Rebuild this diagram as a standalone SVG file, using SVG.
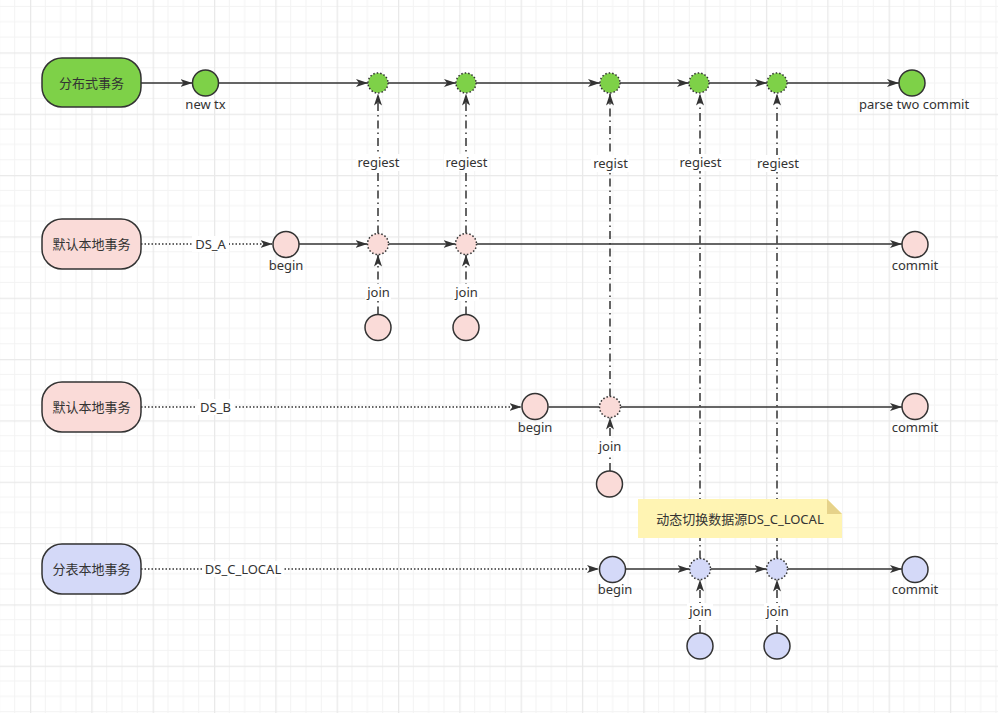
<svg xmlns="http://www.w3.org/2000/svg" width="998" height="713" viewBox="0 0 998 713">
<defs>
<pattern id="grid" patternUnits="userSpaceOnUse" x="30" y="52.4" width="61.33" height="61.33">
<path d="M15.33 0V61.33M30.67 0V61.33M46 0V61.33M0 15.33H61.33M0 30.67H61.33M0 46H61.33" stroke="#f3f3f3" stroke-width="1" fill="none"/>
<path d="M0.5 0V61.33M0 0.5H61.33" stroke="#e9e9e9" stroke-width="1.5" fill="none"/>
</pattern>
<marker id="arr" markerUnits="userSpaceOnUse" markerWidth="13" markerHeight="10" refX="12" refY="5" orient="auto">
<path d="M0,1 L12,5 L0,9 L3,5 z" fill="#333"/>
</marker>
</defs>
<style>
.t{font-family:"Noto Sans","Noto Sans CJK SC",sans-serif;font-size:13px;fill:#333;text-anchor:middle}
.ln{stroke:#333;stroke-width:1.5;fill:none}
.dot{stroke:#333;stroke-width:1.5;fill:none;stroke-dasharray:1.5 2}
.dash{stroke:#333;stroke-width:1.5;fill:none;stroke-dasharray:8 4 1.5 4}
.lbg{fill:#fff}
.box{stroke:#333;stroke-width:1.5}
.c{stroke:#333;stroke-width:1.5}
.cd{stroke:#333;stroke-width:1.5;stroke-dasharray:1.5 2}
.g{fill:#7ED148}
.p{fill:#FADBD8}
.b{fill:#D4D9F8}
</style>
<rect width="998" height="713" fill="#fff"/>
<rect width="998" height="713" fill="url(#grid)"/>

<g id="connectors">
<!-- row 1 -->
<path class="ln" d="M141 83H192.5" marker-end="url(#arr)"/>
<path class="ln" d="M218.5 83H368" marker-end="url(#arr)"/>
<path class="ln" d="M388 83H456" marker-end="url(#arr)"/>
<path class="ln" d="M476 83H600" marker-end="url(#arr)"/>
<path class="ln" d="M620 83H689" marker-end="url(#arr)"/>
<path class="ln" d="M709 83H767" marker-end="url(#arr)"/>
<path class="ln" d="M787 83H899" marker-end="url(#arr)"/>
<!-- row 2 -->
<path class="dot" d="M141 244H272.5" marker-end="url(#arr)"/>
<path class="ln" d="M299 244H367.5" marker-end="url(#arr)"/>
<path class="ln" d="M388.5 244H455.5" marker-end="url(#arr)"/>
<path class="ln" d="M476.5 244H902" marker-end="url(#arr)"/>
<!-- row 3 -->
<path class="dot" d="M141 407H521.5" marker-end="url(#arr)"/>
<path class="ln" d="M548.5 407H599.5"/>
<path class="ln" d="M620.5 407H902" marker-end="url(#arr)"/>
<!-- row 4 -->
<path class="dot" d="M141 569H599" marker-end="url(#arr)"/>
<path class="ln" d="M626 569H689.5" marker-end="url(#arr)"/>
<path class="ln" d="M710.5 569H766.5" marker-end="url(#arr)"/>
<path class="ln" d="M787.5 569H902" marker-end="url(#arr)"/>
<!-- vertical join -->
<path class="dash" d="M378 314.5V254.5" marker-end="url(#arr)"/>
<path class="dash" d="M466 314.5V254.5" marker-end="url(#arr)"/>
<path class="dash" d="M610 471V417.5" marker-end="url(#arr)"/>
<path class="dash" d="M700 633V579.5" marker-end="url(#arr)"/>
<path class="dash" d="M777 633V579.5" marker-end="url(#arr)"/>
<!-- vertical regist -->
<path class="dash" d="M378 233.5V93.5" marker-end="url(#arr)"/>
<path class="dash" d="M466 233.5V93.5" marker-end="url(#arr)"/>
<path class="dash" d="M610 396.5V93.5" marker-end="url(#arr)"/>
<path class="dash" d="M700 558.5V93.5" marker-end="url(#arr)"/>
<path class="dash" d="M777 558.5V93.5" marker-end="url(#arr)"/>
<!-- labels -->
<rect class="lbg" x="192" y="236" width="37" height="16"/>
<text class="t" x="210.5" y="248.5">DS_A</text>
<rect class="lbg" x="197" y="399" width="37" height="16"/>
<text class="t" x="215.5" y="411.5">DS_B</text>
<rect class="lbg" x="202" y="561" width="82" height="16"/>
<text class="t" x="243" y="573.5">DS_C_LOCAL</text>
<rect class="lbg" x="356" y="154" width="44" height="17"/>
<text class="t" x="378.5" y="167">regiest</text>
<rect class="lbg" x="444" y="154" width="44" height="17"/>
<text class="t" x="466.5" y="167">regiest</text>
<rect class="lbg" x="591" y="155" width="38" height="17"/>
<text class="t" x="610.5" y="168">regist</text>
<rect class="lbg" x="678" y="154" width="44" height="17"/>
<text class="t" x="700.5" y="167">regiest</text>
<rect class="lbg" x="756" y="155" width="44" height="17"/>
<text class="t" x="778" y="168">regiest</text>
<rect class="lbg" x="365" y="284" width="26" height="17"/>
<text class="t" x="378.5" y="297">join</text>
<rect class="lbg" x="453" y="284" width="26" height="17"/>
<text class="t" x="466.5" y="297">join</text>
<rect class="lbg" x="597" y="438" width="26" height="17"/>
<text class="t" x="610" y="451">join</text>
<rect class="lbg" x="687" y="603" width="26" height="17"/>
<text class="t" x="700.5" y="616">join</text>
<rect class="lbg" x="764" y="603" width="26" height="17"/>
<text class="t" x="777.5" y="616">join</text>
</g>

<g id="row1-start"><rect class="box g" x="42" y="58" width="99" height="49" rx="20"/><text class="t" x="91.5" y="87.5">分布式事务</text></g>
<g id="row1-newtx"><circle class="c g" cx="205.5" cy="83" r="13"/><text class="t" x="205.5" y="109">new tx</text></g>
<g id="row1-r1"><circle class="cd g" cx="378" cy="83" r="10"/></g>
<g id="row1-r2"><circle class="cd g" cx="466" cy="83" r="10"/></g>
<g id="row1-r3"><circle class="cd g" cx="610" cy="83" r="10"/></g>
<g id="row1-r4"><circle class="cd g" cx="699" cy="83" r="10"/></g>
<g id="row1-r5"><circle class="cd g" cx="777" cy="83" r="10"/></g>
<g id="row1-end"><circle class="c g" cx="912" cy="83" r="13"/><text class="t" x="914" y="109">parse two commit</text></g>

<g id="row2-start"><rect class="box p" x="42" y="219" width="99" height="50" rx="20"/><text class="t" x="91.5" y="248.5">默认本地事务</text></g>
<g id="row2-begin"><circle class="c p" cx="286" cy="244.5" r="13"/><text class="t" x="286" y="270">begin</text></g>
<g id="row2-j1"><circle class="cd p" cx="378" cy="244" r="10.5"/></g>
<g id="row2-j2"><circle class="cd p" cx="466" cy="244" r="10.5"/></g>
<g id="row2-commit"><circle class="c p" cx="915" cy="244.5" r="13"/><text class="t" x="915" y="270">commit</text></g>
<g id="row2-join1"><circle class="c p" cx="378" cy="327.5" r="13"/></g>
<g id="row2-join2"><circle class="c p" cx="466" cy="327.5" r="13"/></g>

<g id="row3-start"><rect class="box p" x="42" y="382" width="99" height="50" rx="20"/><text class="t" x="91.5" y="411.5">默认本地事务</text></g>
<g id="row3-begin"><circle class="c p" cx="535" cy="406.5" r="13"/><text class="t" x="535" y="432">begin</text></g>
<g id="row3-j1"><circle class="cd p" cx="610" cy="407" r="10.5"/></g>
<g id="row3-commit"><circle class="c p" cx="915" cy="406.5" r="13"/><text class="t" x="915" y="432">commit</text></g>
<g id="row3-join1"><circle class="c p" cx="609.5" cy="484" r="13"/></g>

<g id="row4-start"><rect class="box b" x="42" y="544" width="99" height="50" rx="20"/><text class="t" x="91.5" y="573.5">分表本地事务</text></g>
<g id="row4-begin"><circle class="c b" cx="612.5" cy="569.5" r="13"/><text class="t" x="615" y="594">begin</text></g>
<g id="row4-j1"><circle class="cd b" cx="700" cy="569" r="10.5"/></g>
<g id="row4-j2"><circle class="cd b" cx="777" cy="569" r="10.5"/></g>
<g id="row4-commit"><circle class="c b" cx="915" cy="569.5" r="13"/><text class="t" x="915" y="594">commit</text></g>
<g id="row4-join1"><circle class="c b" cx="700" cy="646" r="13"/></g>
<g id="row4-join2"><circle class="c b" cx="777" cy="646" r="13"/></g>

<g id="note">
<path d="M638 499H827L842 514V538H638Z" fill="#FFF4B3"/>
<path d="M827 499V514H842Z" fill="#E6D28A"/>
<text class="t" x="740" y="523.5">动态切换数据源DS_C_LOCAL</text>
</g>
</svg>
